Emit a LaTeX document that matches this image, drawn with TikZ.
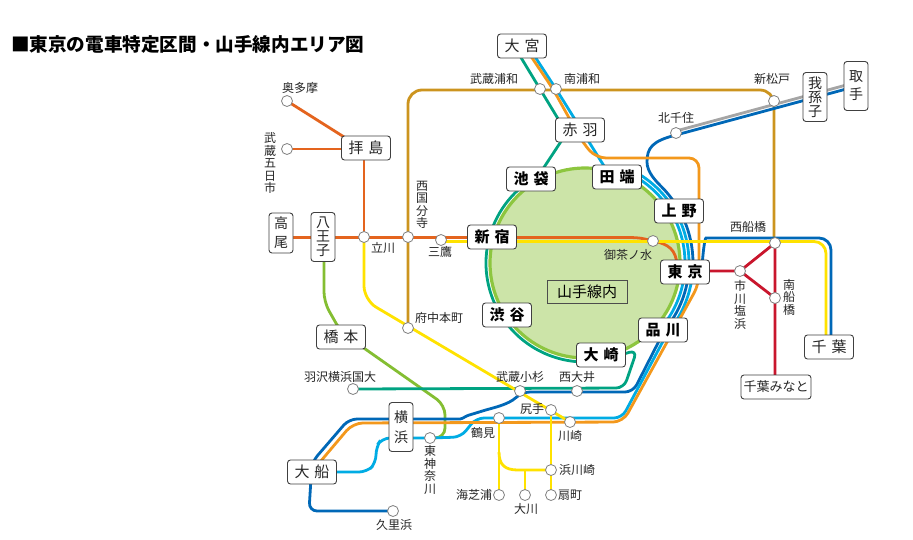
\documentclass[tikz,border=0pt]{standalone}
\usepackage{fontspec}
\setmainfont{Noto Sans CJK JP}
\usetikzlibrary{calc,backgrounds}
\definecolor{chuoC}{RGB}{228,100,30}
\definecolor{sobuC}{RGB}{255,226,0}
\definecolor{musaC}{RGB}{204,148,30}
\definecolor{tokaiC}{RGB}{243,152,28}
\definecolor{keihinC}{RGB}{0,172,228}
\definecolor{yokoC}{RGB}{0,104,183}
\definecolor{saikyoC}{RGB}{0,163,130}
\definecolor{yamaC}{RGB}{141,198,63}
\definecolor{yamaF}{RGB}{204,228,168}
\definecolor{yokohamaC}{RGB}{132,190,50}
\definecolor{keiyoC}{RGB}{201,22,45}
\definecolor{chiyodaC}{RGB}{165,165,165}
\newcommand{\kgap}{\hspace{5pt}}

\begin{document}
\begin{tikzpicture}[x=1pt,y=-1pt,
    rail/.style={line width=2.8pt},
    stn/.style={circle,draw=black!50,fill=white,line width=0.8pt,minimum size=11pt,inner sep=0pt},
    lbl/.style={font=\fontsize{12}{12.5}\selectfont,text=black!85,inner sep=0pt,align=center},
    stbox/.style={draw=black!75,fill=white,rounded corners=3pt,line width=0.9pt,minimum width=49pt,minimum height=24pt,inner sep=0pt,align=center,font=\fontsize{15}{15}\selectfont,text=black!85},
    yamabox/.style={stbox,font=\fontsize{15}{15}\selectfont\bfseries,text=black},
    vstbox/.style={stbox,minimum width=24pt,minimum height=49pt,font=\fontsize{14}{14}\selectfont}]
  \useasboundingbox (0,0) rectangle (913,539);
  \node[anchor=west,inner sep=0pt,font=\fontsize{18.6}{20}\selectfont\bfseries] (title) at (11,44) {■東京の電車特定区間・山手線内エリア図};

  % boxes
  \node[stbox] (omiya) at (522,46) {大\kgap 宮};
  \node[stbox] (akabane) at (580,130) {赤\kgap 羽};
  \node[yamabox] (ikebukuro) at (531,179) {池\kgap 袋};
  \node[yamabox] (tabata) at (617,177) {田\kgap 端};
  \node[yamabox] (ueno) at (679,211) {上\kgap 野};
  \node[yamabox] (shinjuku) at (492,237) {新\kgap 宿};
  \node[yamabox] (tokyo) at (685,272) {東\kgap 京};
  \node[yamabox] (shibuya) at (507,315) {渋\kgap 谷};
  \node[yamabox] (shinagawa) at (663,330) {品\kgap 川};
  \node[yamabox] (osaki) at (601,355) {大\kgap 崎};
  \node[stbox] (haijima) at (366,148) {拝\kgap 島};
  \node[vstbox,minimum height=40pt] (takao) at (281,233) {高\\[5pt]尾};
  \node[vstbox] (hachioji) at (323,237) {八\\王\\子};
  \node[vstbox] (abiko) at (815,97) {我\\孫\\子};
  \node[vstbox] (toride) at (856,86) {取\\[4pt]手};
  \node[stbox] (chiba) at (829,347) {千\kgap 葉};
  \node[stbox,minimum width=70pt,font=\fontsize{13}{13}\selectfont] (chibaminato) at (776,387) {千葉みなと};
  \node[stbox] (hashimoto) at (341,337) {橋\kgap 本};
  \node[vstbox] (yokohama) at (401,427) {横\\[6pt]浜};
  \node[stbox] (ofuna) at (312,472) {大\kgap 船};
  \node[draw=black!70,line width=0.9pt,minimum width=80pt,minimum height=23pt,inner sep=0pt,font=\fontsize{15}{15}\selectfont] (area) at (587,292) {山手線内};

  % stations
  \foreach \n/\x/\y in {musashiurawa/540/89, minamiurawa/556/89, okutama/287/101, itsukaichi/287/149,
      tachikawa/364/237, nishikokubunji/408/237, mitaka/441/240, ochanomizu/653/241, kitasenju/676/133,
      shinmatsudo/774/101, nishifunabashi/775/243, ichikawashiohama/740/271, minamifunabashi/775/298,
      fuchuhommachi/408/328, hazawa/353/389, musashikosugi/520/391, nishioi/577/391, shitte/551/410,
      tsurumi/499/418, kawasaki/570/422, higashikanagawa/430/438, hamakawasaki/551/470,
      umishibaura/499/495, okawa/525/495, ogimachi/551/495, kurihama/393/511}
    \node[stn] (\n) at (\x,\y) {};
  \foreach \n/\x/\y/\s in {musashiurawa/494/79/武蔵浦和, minamiurawa/582/79/南浦和, okutama/300/88/奥多摩,
      itsukaichi/270/163/{武\\蔵\\五\\日\\市}, tachikawa/383/248/立川, nishikokubunji/422/205/{西\\国\\分\\寺},
      mitaka/440/252/三鷹, ochanomizu/628/255/御茶ノ水, kitasenju/676/118/北千住, shinmatsudo/772/79/新松戸,
      nishifunabashi/748/227/西船橋, ichikawashiohama/740/305/{市\\川\\塩\\浜}, minamifunabashi/789/297/{南\\船\\橋},
      fuchuhommachi/439/318/府中本町, hazawa/340/377/羽沢横浜国大, musashikosugi/520/377/武蔵小杉,
      nishioi/577/377/西大井, shitte/532/409/尻手, tsurumi/483/433/鶴見, kawasaki/570/436/川崎,
      higashikanagawa/430/470/{東\\神\\奈\\川}, hamakawasaki/577/470/浜川崎, umishibaura/474/495/海芝浦,
      okawa/526/509/大川, ogimachi/570/495/扇町, kurihama/394/525/久里浜}
    \node[lbl] (\n-t) at (\x,\y) {\s};

  \begin{pgfonlayer}{background}
    \fill[white] (0,0) rectangle (913,539);
    \coordinate (C) at (585,263);
    \draw[yamaC,fill=yamaF,line width=3.2pt] (C) circle[radius=95];
    % keiyo
    \draw[rail,keiyoC] (690,271) -- (ichikawashiohama.center) -- (nishifunabashi.center) -- (775,387);
    \draw[rail,keiyoC] (ichikawashiohama.center) -- (minamifunabashi.center);
    % musashino
    \draw[rail,musaC,rounded corners=14] (fuchuhommachi.center) -- (408,90) -- (774,90) -- (774,243);
    % chuo, ome
    \draw[rail,chuoC] (281,237.5) -- (628,237.5) .. controls (641,237.5) and (645,239) .. (ochanomizu.center)
      .. controls (669,244) and (676,250) .. (677,265);
    \draw[rail,chuoC] (okutama.center) -- (352,142);
    \draw[rail,chuoC] (itsukaichi.center) -- (352,149);
    \draw[rail,chuoC] (364,150) -- (tachikawa.center);
    % yokohama line
    \draw[rail,yokohamaC,rounded corners=10] (324,245) -- (324,302) -- (341,332) -- (445,405) -- (445,438)
      -- (higashikanagawa.center);
    % joban, yokosuka, sobu rapid
    \draw[rail,chiyodaC] (850,84) -- (676,131);
    \draw[rail,yokoC] (850,88) -- (676,135) .. controls (652,141) and (647,148) .. (647,162)
      .. controls (647,172) and (655.7,180.9) .. ($(C)+(-45:108)$) arc[start angle=-45,end angle=0,radius=108]
      -- ($(C)+(6:104)$) arc[start angle=6,end angle=40,radius=104] [rounded corners=8] -- (633,392) -- (522,392)
      .. controls (508,405) and (492,408) .. (476,413) .. controls (466,416) and (462,419) .. (452,419)
      -- (349,419) -- (312,462) -- (309,511) -- (kurihama.center);
    \draw[rail,yokoC,rounded corners=12] (702,268) .. controls (703,250) and (705,238) .. (718,238)
      -- (831,238) -- (831,345);
    % keihin-tohoku
    \draw[rail,keihinC] (528,46) -- (minamiurawa.center) -- (604,166) -- ($(C)+(-62:100)$)
      arc[start angle=-62,end angle=40,radius=100];
    \draw[rail,keihinC] ($(C)+(-62:104)$) arc[start angle=-62,end angle=0,radius=104]
      -- ($(C)+(6:108)$) arc[start angle=6,end angle=40,radius=108] [rounded corners=8] -- (622,418)
      -- (476,418) -- (461,437) -- (higashikanagawa.center) -- (382,438) -- (376,447) -- (376,463)
      -- (367,472) -- (ofuna.center);
    % tokaido
    \draw[rail,tokaiC,rounded corners=10] (524,46) -- (553,89) -- (583,143) -- (596,158) -- (699,158)
      -- (699,284) -- (623,422) -- (353,423) -- (320,462) -- (ofuna.center);
    % saikyo
    \draw[rail,saikyoC] (514,46) -- (musashiurawa.center) -- (560,122) -- (562,140) -- ($(C)+(-118:99)$)
      arc[start angle=-118,end angle=-280,radius=99] [rounded corners=8] -- (637,350) -- (624,388)
      -- (hazawa.center);
    % sobu local, nambu, tsurumi
    \draw[rail,sobuC,rounded corners=12] (441,241.5) -- (826,241.5) -- (826,345);
    \draw[rail,sobuC,rounded corners=14] (tachikawa.center) -- (364,300) -- (kawasaki.center);
    \draw[rail,sobuC] (shitte.center) -- (ogimachi.center);
    \draw[rail,sobuC] (tsurumi.center) -- (umishibaura.center);
    \draw[rail,sobuC] (499,452) .. controls (499,465) and (505,470) .. (518,470) -- (hamakawasaki.center);
    \draw[rail,sobuC] (525,470) -- (okawa.center);
  \end{pgfonlayer}
\end{tikzpicture}
\end{document}
